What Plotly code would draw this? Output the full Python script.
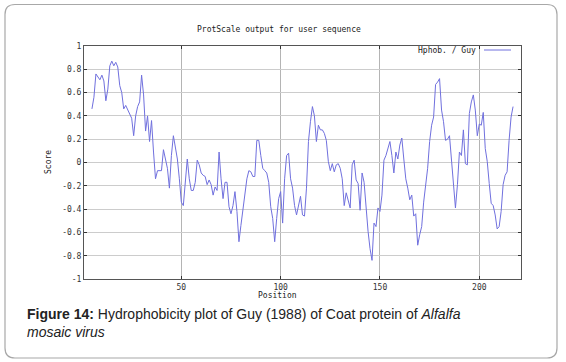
import plotly.graph_objects as go

# ---- data ----
positions = list(range(5, 218))
scores = [
    0.46, 0.56, 0.76, 0.73, 0.71, 0.75, 0.70, 0.53, 0.63, 0.83,   # 5-14
    0.87, 0.83, 0.86, 0.82, 0.66, 0.60, 0.46, 0.49, 0.45, 0.42,   # 15-24
    0.38, 0.23, 0.40, 0.48, 0.52, 0.75, 0.58, 0.27, 0.40, 0.18,   # 25-34
    0.36, 0.09, -0.14, -0.07, -0.07, -0.07, 0.11, 0.02, -0.05, -0.22,  # 35-44
    0.06, 0.23, 0.12, 0.03, -0.14, -0.34, -0.37, -0.14, 0.03, -0.14,   # 45-54
    -0.24, -0.24, -0.17, 0.02, -0.02, -0.09, -0.11, -0.12, -0.19, -0.15,  # 55-64
    -0.19, -0.28, -0.21, -0.24, 0.09, -0.14, -0.31, -0.17, -0.17, -0.38,  # 65-74
    -0.44, -0.37, -0.25, -0.42, -0.68, -0.54, -0.39, -0.25, -0.14, -0.07,  # 75-84
    -0.08, -0.12, -0.12, 0.19, 0.19, 0.06, -0.05, -0.07, -0.09, -0.17,  # 85-94
    -0.38, -0.48, -0.68, -0.48, -0.31, -0.25, -0.52, -0.14, 0.06, 0.08,  # 95-104
    -0.14, -0.22, -0.37, -0.45, -0.37, -0.29, -0.45, -0.46, -0.22, 0.18,  # 105-114
    0.35, 0.48, 0.40, 0.18, 0.32, 0.28, 0.28, 0.25, 0.19, 0.01,   # 115-124
    -0.07, -0.01, -0.08, -0.02, -0.01, -0.05, -0.14, -0.37, -0.26, -0.34,  # 125-134
    -0.39, -0.02, 0.02, -0.15, -0.18, -0.41, -0.09, -0.17, -0.39, -0.59,  # 135-144
    -0.74, -0.84, -0.52, -0.55, -0.39, -0.42, -0.28, 0.02, 0.06, 0.13,  # 145-154
    0.18, 0.06, -0.09, 0.09, 0.03, 0.15, 0.21, 0.03, -0.14, -0.22,  # 155-164
    -0.32, -0.28, -0.46, -0.44, -0.71, -0.62, -0.55, -0.34, -0.19, -0.05,  # 165-174
    0.18, 0.32, 0.39, 0.67, 0.69, 0.72, 0.45, 0.35, 0.19, 0.20,   # 175-184
    0.23, 0.01, -0.17, -0.39, -0.19, 0.09, 0.06, 0.28, -0.01, -0.02,  # 185-194
    0.42, 0.52, 0.58, 0.45, 0.23, 0.33, 0.32, 0.43, 0.12, 0.01,   # 195-204
    -0.18, -0.35, -0.37, -0.45, -0.57, -0.55, -0.42, -0.19, -0.11, -0.08,  # 205-214
    0.19, 0.39, 0.48,   # 215-217
]
x_range = [1, 221]
y_range = [-1, 1]
y_tickvals = [1, 0.8, 0.6, 0.4, 0.2, 0, -0.2, -0.4, -0.6, -0.8, -1]
y_ticktext = ["1", "0.8", "0.6", "0.4", "0.2", "0", "-0.2", "-0.4", "-0.6", "-0.8", "-1"]
x_tickvals = [50, 100, 150, 200]
x_ticktext = ["50", "100", "150", "200"]
series_name = "Hphob. / Guy"
title_text = "ProtScale output for user sequence"
x_title = "Position"
y_title = "Score"

W, H = 566, 362
L, R, T, B = 84, 521, 46, 279
LINE_COLOR = "#7070de"
MONO = "DejaVu Sans Mono"


def px(x):
    return (x - L) / (R - L)


def py(y):
    return (B - y) / (B - T)


fig = go.Figure()
fig.add_trace(go.Scatter(x=positions, y=scores, mode="lines",
                         line=dict(color=LINE_COLOR, width=1),
                         name=series_name, showlegend=False))

axis_common = dict(showline=True, linecolor="#555555", linewidth=1, mirror="ticks",
                   ticks="inside", ticklen=3, tickcolor="#333333",
                   tickfont=dict(family=MONO, size=8, color="#333333"),
                   zeroline=False, showgrid=True)

fig.update_xaxes(range=x_range, tickvals=x_tickvals, ticktext=x_ticktext,
                 gridcolor="#b4b4b4", gridwidth=1, **axis_common)
fig.update_yaxes(range=y_range, tickvals=y_tickvals, ticktext=y_ticktext,
                 gridcolor="#cccccc", gridwidth=1, **axis_common)

# rounded frame around the whole figure
x0, y0, x1, y1, r = 5, 4.5, 557, 358, 10
path = (f"M {px(x0 + r)},{py(y0)} L {px(x1 - r)},{py(y0)} Q {px(x1)},{py(y0)} {px(x1)},{py(y0 + r)} "
        f"L {px(x1)},{py(y1 - r)} Q {px(x1)},{py(y1)} {px(x1 - r)},{py(y1)} "
        f"L {px(x0 + r)},{py(y1)} Q {px(x0)},{py(y1)} {px(x0)},{py(y1 - r)} "
        f"L {px(x0)},{py(y0 + r)} Q {px(x0)},{py(y0)} {px(x0 + r)},{py(y0)} Z")
shapes = [dict(type="path", xref="paper", yref="paper", path=path,
               line=dict(color="#a8a8a8", width=1.2), layer="below"),
          # legend sample line
          dict(type="line", xref="paper", yref="paper",
               x0=px(484), x1=px(511), y0=py(50), y1=py(50),
               line=dict(color=LINE_COLOR, width=1))]

annotations = [
    dict(text=title_text, xref="paper", yref="paper", x=px(279), y=py(29),
         xanchor="center", yanchor="middle", showarrow=False,
         font=dict(family=MONO, size=8, color="#222222")),
    dict(text=series_name, xref="paper", yref="paper", x=px(478), y=py(50),
         xanchor="right", yanchor="middle", showarrow=False,
         font=dict(family=MONO, size=8, color="#222222")),
    dict(text=x_title, xref="paper", yref="paper", x=px(277), y=py(295),
         xanchor="center", yanchor="middle", showarrow=False,
         font=dict(family=MONO, size=8, color="#222222")),
    dict(text=y_title, xref="paper", yref="paper", x=px(48), y=py(162),
         xanchor="center", yanchor="middle", showarrow=False, textangle=-90,
         font=dict(family=MONO, size=8, color="#222222")),
    dict(text="<b>Figure 14:</b> Hydrophobicity plot of Guy (1988) of Coat protein of <i>Alfalfa</i><br><i>mosaic virus</i>",
         xref="paper", yref="paper", x=px(25), y=py(304), align="left",
         xanchor="left", yanchor="top", showarrow=False,
         font=dict(family="Liberation Sans, Arial, sans-serif", size=14, color="#222222")),
]

fig.update_layout(width=W, height=H, margin=dict(l=L, r=W - R, t=T, b=H - B),
                  paper_bgcolor="white", plot_bgcolor="white",
                  shapes=shapes, annotations=annotations, showlegend=False)

fig.write_html("out.html", config={"displayModeBar": False},
               post_script="document.body.style.margin='0px';document.body.style.overflow='hidden';")
